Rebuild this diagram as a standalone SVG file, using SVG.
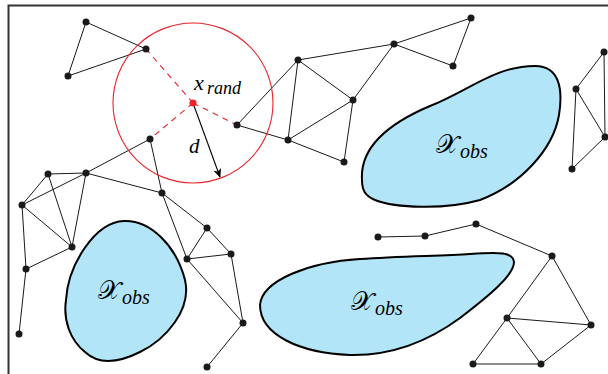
<svg xmlns="http://www.w3.org/2000/svg" width="608" height="374" viewBox="0 0 608 374">
<defs>
<style>
.edge{stroke:#1a1a1a;stroke-width:1;fill:none}
.node{fill:#1a1a1a}
.obs{fill:#b3e5f8;stroke:#000;stroke-width:2}
.dash{stroke:#e8232b;stroke-width:1.1;stroke-dasharray:6,5;fill:none}
.lbl{font-family:"Liberation Serif","DejaVu Serif",serif;font-style:italic;fill:#000}
.cal{font-family:"DejaVu Serif","Liberation Serif",serif;font-style:normal;fill:#000}
</style>
<marker id="arr" viewBox="0 0 10 10" refX="9" refY="5" markerWidth="9" markerHeight="9" markerUnits="userSpaceOnUse" orient="auto">
<path d="M0,0.5 L10,5 L0,9.5 L2.5,5 Z" fill="#000"/>
</marker>
</defs>
<rect width="608" height="374" fill="#fff"/>
<path d="M8.5,374 V5.5 H608" fill="none" stroke="#333" stroke-width="2"/>

<g id="obstacles">
<g id="obs-upper">
<path class="obs" d="M362,180 C360,150 385,125 430,106 C470,90 495,66 535,66 C560,66 563,90 559,115 C553,150 520,185 480,200 C445,210 395,208 375,200 C365,196 362,190 362,180 Z"/>
<text class="cal" x="436" y="153" font-size="26">𝒳</text><text class="lbl" x="460" y="158" font-size="20">obs</text>
</g>
<g id="obs-left">
<path class="obs" d="M124,221 C150,220 176,245 185,280 C192,310 165,340 140,352 C120,362 100,366 85,352 C70,340 63,320 66,300 C68,265 95,222 124,221 Z"/>
<text class="cal" x="98" y="299" font-size="26">𝒳</text><text class="lbl" x="122" y="304" font-size="20">obs</text>
</g>
<g id="obs-middle">
<path class="obs" d="M260,305 C262,280 310,262 360,259 C400,256 440,256 470,254 C500,252 513,252 514,262 C514,275 490,295 460,318 C430,340 395,356 350,355 C300,353 260,335 260,305 Z"/>
<text class="cal" x="351" y="310" font-size="26">𝒳</text><text class="lbl" x="375" y="315" font-size="20">obs</text>
</g>
</g>

<g id="connectors">
<line class="edge" x1="86" y1="22" x2="146" y2="49"/>
<line class="edge" x1="86" y1="22" x2="68" y2="76"/>
<line class="edge" x1="68" y1="76" x2="146" y2="49"/>
<line class="edge" x1="237" y1="125" x2="298" y2="60"/>
<line class="edge" x1="237" y1="125" x2="288" y2="140"/>
<line class="edge" x1="298" y1="60" x2="288" y2="140"/>
<line class="edge" x1="298" y1="60" x2="353" y2="100"/>
<line class="edge" x1="288" y1="140" x2="353" y2="100"/>
<line class="edge" x1="353" y1="100" x2="344" y2="162"/>
<line class="edge" x1="288" y1="140" x2="344" y2="162"/>
<line class="edge" x1="298" y1="60" x2="394" y2="44"/>
<line class="edge" x1="353" y1="100" x2="394" y2="44"/>
<line class="edge" x1="394" y1="44" x2="471" y2="18"/>
<line class="edge" x1="394" y1="44" x2="453" y2="66"/>
<line class="edge" x1="471" y1="18" x2="453" y2="66"/>
<line class="edge" x1="604" y1="52" x2="576" y2="89"/>
<line class="edge" x1="604" y1="52" x2="605" y2="137"/>
<line class="edge" x1="576" y1="89" x2="605" y2="137"/>
<line class="edge" x1="576" y1="89" x2="572" y2="169"/>
<line class="edge" x1="572" y1="169" x2="605" y2="137"/>
<line class="edge" x1="150" y1="139" x2="86" y2="173"/>
<line class="edge" x1="150" y1="139" x2="162" y2="193"/>
<line class="edge" x1="48" y1="174" x2="86" y2="173"/>
<line class="edge" x1="48" y1="174" x2="22" y2="205"/>
<line class="edge" x1="48" y1="174" x2="72" y2="247"/>
<line class="edge" x1="86" y1="173" x2="22" y2="205"/>
<line class="edge" x1="86" y1="173" x2="72" y2="247"/>
<line class="edge" x1="86" y1="173" x2="162" y2="193"/>
<line class="edge" x1="22" y1="205" x2="72" y2="247"/>
<line class="edge" x1="22" y1="205" x2="26" y2="269"/>
<line class="edge" x1="72" y1="247" x2="26" y2="269"/>
<line class="edge" x1="26" y1="269" x2="19" y2="334"/>
<line class="edge" x1="162" y1="193" x2="207" y2="228"/>
<line class="edge" x1="162" y1="193" x2="187" y2="259"/>
<line class="edge" x1="207" y1="228" x2="187" y2="259"/>
<line class="edge" x1="207" y1="228" x2="231" y2="254"/>
<line class="edge" x1="187" y1="259" x2="231" y2="254"/>
<line class="edge" x1="187" y1="259" x2="243" y2="323"/>
<line class="edge" x1="231" y1="254" x2="243" y2="323"/>
<line class="edge" x1="243" y1="323" x2="207" y2="367"/>
<line class="edge" x1="378" y1="237" x2="425" y2="236"/>
<line class="edge" x1="425" y1="236" x2="476" y2="224"/>
<line class="edge" x1="476" y1="224" x2="552" y2="256"/>
<line class="edge" x1="552" y1="256" x2="507" y2="318"/>
<line class="edge" x1="552" y1="256" x2="591" y2="325"/>
<line class="edge" x1="507" y1="318" x2="591" y2="325"/>
<line class="edge" x1="507" y1="318" x2="473" y2="364"/>
<line class="edge" x1="507" y1="318" x2="541" y2="364"/>
<line class="edge" x1="473" y1="364" x2="541" y2="364"/>
<line class="edge" x1="541" y1="364" x2="591" y2="325"/>
<line class="dash" x1="193" y1="103" x2="146" y2="49"/>
<line class="dash" x1="193" y1="103" x2="237" y2="125"/>
<line class="dash" x1="193" y1="103" x2="150" y2="139"/>
<line stroke="#000" stroke-width="1.1" x1="193" y1="103" x2="220" y2="177" marker-end="url(#arr)"/>
</g>

<g id="sample">
<circle cx="193" cy="103" r="80" fill="none" stroke="#e8232b" stroke-width="1.1"/>
<circle cx="193" cy="103" r="3.6" fill="#e8232b"/>
<text class="lbl" x="194" y="90" font-size="22">x</text><text class="lbl" x="207" y="94" font-size="18">rand</text>
<text class="lbl" x="189" y="153" font-size="21">d</text>
</g>

<g id="nodes">
<g id="nA"><circle class="node" cx="86" cy="22" r="3.5"/></g>
<g id="nB"><circle class="node" cx="146" cy="49" r="3.5"/></g>
<g id="nC"><circle class="node" cx="68" cy="76" r="3.5"/></g>
<g id="nD"><circle class="node" cx="237" cy="125" r="3.5"/></g>
<g id="nE"><circle class="node" cx="150" cy="139" r="3.5"/></g>
<g id="nF"><circle class="node" cx="48" cy="174" r="3.5"/></g>
<g id="nG"><circle class="node" cx="86" cy="173" r="3.5"/></g>
<g id="nH"><circle class="node" cx="298" cy="60" r="3.5"/></g>
<g id="nI"><circle class="node" cx="288" cy="140" r="3.5"/></g>
<g id="nT"><circle class="node" cx="353" cy="100" r="3.5"/></g>
<g id="nU"><circle class="node" cx="344" cy="162" r="3.5"/></g>
<g id="nV"><circle class="node" cx="394" cy="44" r="3.5"/></g>
<g id="nW"><circle class="node" cx="471" cy="18" r="3.5"/></g>
<g id="nX"><circle class="node" cx="453" cy="66" r="3.5"/></g>
<g id="nY"><circle class="node" cx="604" cy="52" r="3.5"/></g>
<g id="nZ"><circle class="node" cx="576" cy="89" r="3.5"/></g>
<g id="nAA"><circle class="node" cx="605" cy="137" r="3.5"/></g>
<g id="nAB"><circle class="node" cx="572" cy="169" r="3.5"/></g>
<g id="nJ"><circle class="node" cx="22" cy="205" r="3.5"/></g>
<g id="nK"><circle class="node" cx="72" cy="247" r="3.5"/></g>
<g id="nL"><circle class="node" cx="162" cy="193" r="3.5"/></g>
<g id="nM"><circle class="node" cx="207" cy="228" r="3.5"/></g>
<g id="nN"><circle class="node" cx="187" cy="259" r="3.5"/></g>
<g id="nO"><circle class="node" cx="231" cy="254" r="3.5"/></g>
<g id="nP"><circle class="node" cx="26" cy="269" r="3.5"/></g>
<g id="nQ"><circle class="node" cx="19" cy="334" r="3.5"/></g>
<g id="nR"><circle class="node" cx="243" cy="323" r="3.5"/></g>
<g id="nS"><circle class="node" cx="207" cy="367" r="3.5"/></g>
<g id="nAC"><circle class="node" cx="378" cy="237" r="3.5"/></g>
<g id="nAD"><circle class="node" cx="425" cy="236" r="3.5"/></g>
<g id="nAE"><circle class="node" cx="476" cy="224" r="3.5"/></g>
<g id="nAF"><circle class="node" cx="552" cy="256" r="3.5"/></g>
<g id="nAG"><circle class="node" cx="507" cy="318" r="3.5"/></g>
<g id="nAH"><circle class="node" cx="591" cy="325" r="3.5"/></g>
<g id="nAI"><circle class="node" cx="473" cy="364" r="3.5"/></g>
<g id="nAJ"><circle class="node" cx="541" cy="364" r="3.5"/></g>
</g>
</svg>
